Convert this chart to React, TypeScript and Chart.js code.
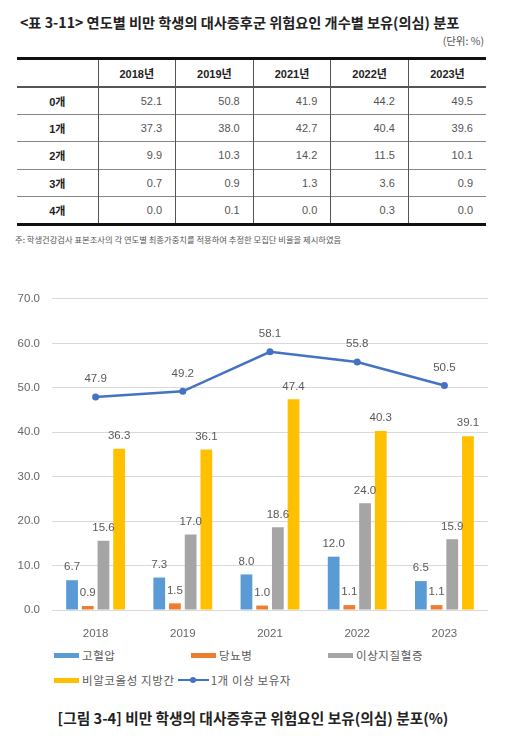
import React, { useEffect, useRef } from "react";
import { Chart, registerables } from "chart.js";

Chart.register(...registerables);

// ---------- table data ----------
const tableYears = ["2018년", "2019년", "2021년", "2022년", "2023년"];
const tableRowLabels = ["0개", "1개", "2개", "3개", "4개"];
const count0 = [52.1, 50.8, 41.9, 44.2, 49.5];
const count1 = [37.3, 38.0, 42.7, 40.4, 39.6];
const count2 = [9.9, 10.3, 14.2, 11.5, 10.1];
const count3 = [0.7, 0.9, 1.3, 3.6, 0.9];
const count4 = [0.0, 0.1, 0.0, 0.3, 0.0];

// ---------- chart data ----------
const years = ["2018", "2019", "2021", "2022", "2023"];
const hypertension = [6.7, 7.3, 8.0, 12.0, 6.5];
const diabetes = [0.9, 1.5, 1.0, 1.1, 1.1];
const dyslipidemia = [15.6, 17.0, 18.6, 24.0, 15.9];
const fattyLiver = [36.3, 36.1, 47.4, 40.3, 39.1];
const atLeastOne = [47.9, 49.2, 58.1, 55.8, 50.5];
const seriesNames = ["고혈압", "당뇨병", "이상지질혈증", "비알코올성 지방간", "1개 이상 보유자"];
const yMin = 0;
const yMax = 70;
const yStep = 10;

const COLORS = ["#5B9BD5", "#ED7D31", "#A5A5A5", "#FFC000", "#4472C4"];
const FONT = "'Liberation Sans', 'Noto Sans CJK KR', sans-serif";
const KFONT = "'Noto Sans CJK KR', 'Liberation Sans', sans-serif";

const valueLabels = {
  id: "valueLabels",
  afterDatasetsDraw(chart: any) {
    const ctx = chart.ctx;
    ctx.save();
    ctx.font = `11.5px ${FONT}`;
    ctx.fillStyle = "#595959";
    ctx.textAlign = "center";
    ctx.textBaseline = "middle";
    chart.data.datasets.forEach((ds: any, i: number) => {
      const meta = chart.getDatasetMeta(i);
      const off = ds.type === "line" ? 18 : 13;
      meta.data.forEach((el: any, j: number) => {
        const v = ds.data[j] as number;
        ctx.fillText(v.toFixed(1), el.x, el.y - off);
      });
    });
    ctx.restore();
  },
};

function ChartBox() {
  const ref = useRef<HTMLCanvasElement | null>(null);
  useEffect(() => {
    if (!ref.current) return;
    const barSets = [hypertension, diabetes, dyslipidemia, fattyLiver].map((d, i) => ({
      type: "bar" as const,
      label: seriesNames[i],
      data: d,
      backgroundColor: COLORS[i],
      categoryPercentage: 0.72,
      barPercentage: 0.75,
      order: 2,
    }));
    const chart = new Chart(ref.current, {
      type: "bar",
      data: {
        labels: years,
        datasets: [
          ...barSets,
          {
            type: "line" as const,
            label: seriesNames[4],
            data: atLeastOne,
            borderColor: COLORS[4],
            backgroundColor: COLORS[4],
            borderWidth: 2.5,
            pointRadius: 3.5,
            pointBackgroundColor: COLORS[4],
            pointBorderWidth: 0,
            tension: 0,
            order: 1,
          } as any,
        ],
      },
      options: {
        animation: false,
        responsive: true,
        maintainAspectRatio: false,
        layout: { padding: { top: 17, right: 18, left: 0, bottom: 0 } },
        plugins: { legend: { display: false }, tooltip: { enabled: false } },
        scales: {
          x: {
            grid: { display: false },
            border: { display: false },
            ticks: { color: "#666", font: { family: FONT, size: 11.5 }, padding: 9 },
            afterFit: (s: any) => {
              s.height = 30;
            },
          },
          y: {
            min: yMin,
            max: yMax,
            ticks: {
              stepSize: yStep,
              color: "#666",
              font: { family: FONT, size: 11.5 },
              padding: 12,
              callback: (v: any) => Number(v).toFixed(1),
            },
            grid: { color: "#D9D9D9", drawTicks: false },
            border: { display: false },
            afterFit: (s: any) => {
              s.width = 52;
            },
          },
        },
      },
      plugins: [valueLabels],
    });
    return () => chart.destroy();
  }, []);
  return (
    <div style={{ position: "absolute", left: 0, top: 280, width: 506, height: 360 }}>
      <canvas ref={ref} />
    </div>
  );
}

function LegendItem({ i }: { i: number }) {
  const isLine = i === 4;
  return (
    <div style={{ display: "flex", alignItems: "center", whiteSpace: "nowrap" }}>
      {isLine ? (
        <div style={{ position: "relative", width: 31, height: 10, marginRight: 2 }}>
          <div style={{ position: "absolute", left: 0, right: 0, top: 4, height: 2, background: COLORS[i] }} />
          <div
            style={{
              position: "absolute",
              left: 12,
              top: 2,
              width: 6,
              height: 6,
              borderRadius: 3,
              background: COLORS[i],
            }}
          />
        </div>
      ) : (
        <div style={{ width: 25, height: 5, background: COLORS[i], marginRight: 3 }} />
      )}
      <span style={{ fontFamily: KFONT, fontSize: 11.5, color: "#595959", letterSpacing: 0.6 }}>
        {seriesNames[i]}
      </span>
    </div>
  );
}

export default function App() {
  const rows = [count0, count1, count2, count3, count4];
  const thBase: React.CSSProperties = {
    fontWeight: "bold",
    color: "#222",
    fontSize: 11,
    textAlign: "center",
    padding: 0,
  };
  return (
    <div
      style={{
        position: "absolute",
        left: 0,
        top: 0,
        width: 506,
        height: 748,
        background: "#fff",
        overflow: "hidden",
        fontFamily: FONT,
      }}
    >
      <div
        style={{
          position: "absolute",
          left: 20,
          top: 12,
          fontFamily: KFONT,
          fontWeight: "bold",
          fontSize: 14.2,
          color: "#222",
          whiteSpace: "nowrap",
        }}
      >
        {"<표 3-11> 연도별 비만 학생의 대사증후군 위험요인 개수별 보유(의심) 분포"}
      </div>
      <div
        style={{
          position: "absolute",
          right: 22,
          top: 33,
          fontFamily: KFONT,
          fontSize: 10.5,
          color: "#555",
        }}
      >
        (단위: %)
      </div>
      <table
        style={{
          position: "absolute",
          left: 17,
          top: 57,
          width: 469,
          borderCollapse: "collapse",
          tableLayout: "fixed",
          fontFamily: FONT,
        }}
      >
        <colgroup>
          <col style={{ width: 81 }} />
          {tableYears.map((y) => (
            <col key={y} style={{ width: 77.6 }} />
          ))}
        </colgroup>
        <thead>
          <tr style={{ height: 28, borderTop: "3px solid #111", borderBottom: "2px solid #555" }}>
            <th style={thBase}></th>
            {tableYears.map((y) => (
              <th key={y} style={{ ...thBase, borderLeft: "1px solid #555" }}>
                {y}
              </th>
            ))}
          </tr>
        </thead>
        <tbody>
          {rows.map((r, ri) => (
            <tr
              key={ri}
              style={{
                height: 27.5,
                borderBottom: ri === rows.length - 1 ? "3px solid #111" : "1px solid #888",
              }}
            >
              <td style={thBase}>{tableRowLabels[ri]}</td>
              {r.map((v, ci) => (
                <td
                  key={ci}
                  style={{
                    borderLeft: "1px solid #555",
                    textAlign: "right",
                    paddingRight: 13,
                    fontSize: 11,
                    color: "#555",
                  }}
                >
                  {v.toFixed(1)}
                </td>
              ))}
            </tr>
          ))}
        </tbody>
      </table>
      <div
        style={{
          position: "absolute",
          left: 15,
          top: 233,
          fontFamily: KFONT,
          fontSize: 8.3,
          color: "#555",
          whiteSpace: "nowrap",
        }}
      >
        주: 학생건강검사 표본조사의 각 연도별 최종가중치를 적용하여 추정한 모집단 비율을 제시하였음
      </div>

      <ChartBox />

      <div style={{ position: "absolute", left: 54, top: 647, display: "flex" }}>
        {[0, 1, 2].map((i) => (
          <div key={i} style={{ width: 137 }}>
            <LegendItem i={i} />
          </div>
        ))}
      </div>
      <div style={{ position: "absolute", left: 54, top: 672, display: "flex", gap: 3 }}>
        <LegendItem i={3} />
        <LegendItem i={4} />
      </div>

      <div
        style={{
          position: "absolute",
          left: 0,
          top: 707,
          width: 506,
          textAlign: "center",
          fontFamily: KFONT,
          fontWeight: "bold",
          fontSize: 14.7,
          color: "#222",
          whiteSpace: "nowrap",
        }}
      >
        [그림 3-4] 비만 학생의 대사증후군 위험요인 보유(의심) 분포(%)
      </div>
    </div>
  );
}
